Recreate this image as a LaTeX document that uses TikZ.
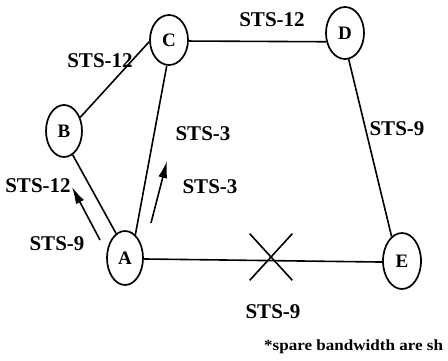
\documentclass[tikz,border=0pt]{standalone}
\usepackage{fontspec}
\setmainfont{Liberation Serif}
\usetikzlibrary{shapes.geometric,shapes.misc,arrows.meta}
\tikzset{
  site/.style={ellipse,draw,line width=1.7pt,inner sep=0pt,
    font=\fontsize{19}{19}\selectfont\bfseries},
  link/.style={line width=1.6pt},
  lbl/.style={inner sep=0pt,font=\fontsize{21}{21}\selectfont\bfseries},
  flow/.style={line width=1.6pt,-{Latex[length=17pt,width=9pt]}},
  cut/.style={cross out,draw,line width=1.6pt,minimum width=41pt,minimum height=45pt,inner sep=0pt}
}
\begin{document}
\begin{tikzpicture}[x=1pt,y=-1pt]
\useasboundingbox (0,0) rectangle (448,361);
\node[site,minimum width=36pt,minimum height=54pt] (A) at (125,258) {A};
\node[site,minimum width=36pt,minimum height=52pt] (B) at (64,131) {B};
\node[site,minimum width=38pt,minimum height=50pt] (C) at (169,40) {C};
\node[site,minimum width=38pt,minimum height=52pt] (D) at (345,33) {D};
\node[site,minimum width=38pt,minimum height=56pt] (E) at (402,261) {E};
\draw[link] (B.40) -- (C.185);
\draw[link] (C.-95) -- (A.66);
\draw[link] (B.-70) -- (A.110);
\draw[link] (C.-3) -- (D.205);
\draw[link] (D.-82) -- (E.113);
\draw[link] (A.-3) -- (E.183);
\node[cut] (X) at (271,257) {};
\coordinate (f1s) at (100,240);
\coordinate (f1e) at (72,187);
\coordinate (f2s) at (151,223);
\coordinate (f2e) at (167,161);
\draw[flow] (f1s) -- (f1e);
\draw[flow] (f2s) -- (f2e);
\node[lbl] (l1) at (272,20) {STS-12};
\node[lbl] (l2) at (100,61) {STS-12};
\node[lbl] (l3) at (397,129) {STS-9};
\node[lbl] (l4) at (203,134) {STS-3};
\node[lbl] (l5) at (210,187) {STS-3};
\node[lbl] (l6) at (38,186) {STS-12};
\node[lbl] (l7) at (57,244) {STS-9};
\node[lbl] (l8) at (273,312) {STS-9};
\node[inner sep=0pt,anchor=base west,font=\fontsize{15.5}{15.5}\selectfont\bfseries] (note) at (264,350) {\scalebox{1.1}[1]{*spare bandwidth are sh}};
\end{tikzpicture}
\end{document}
